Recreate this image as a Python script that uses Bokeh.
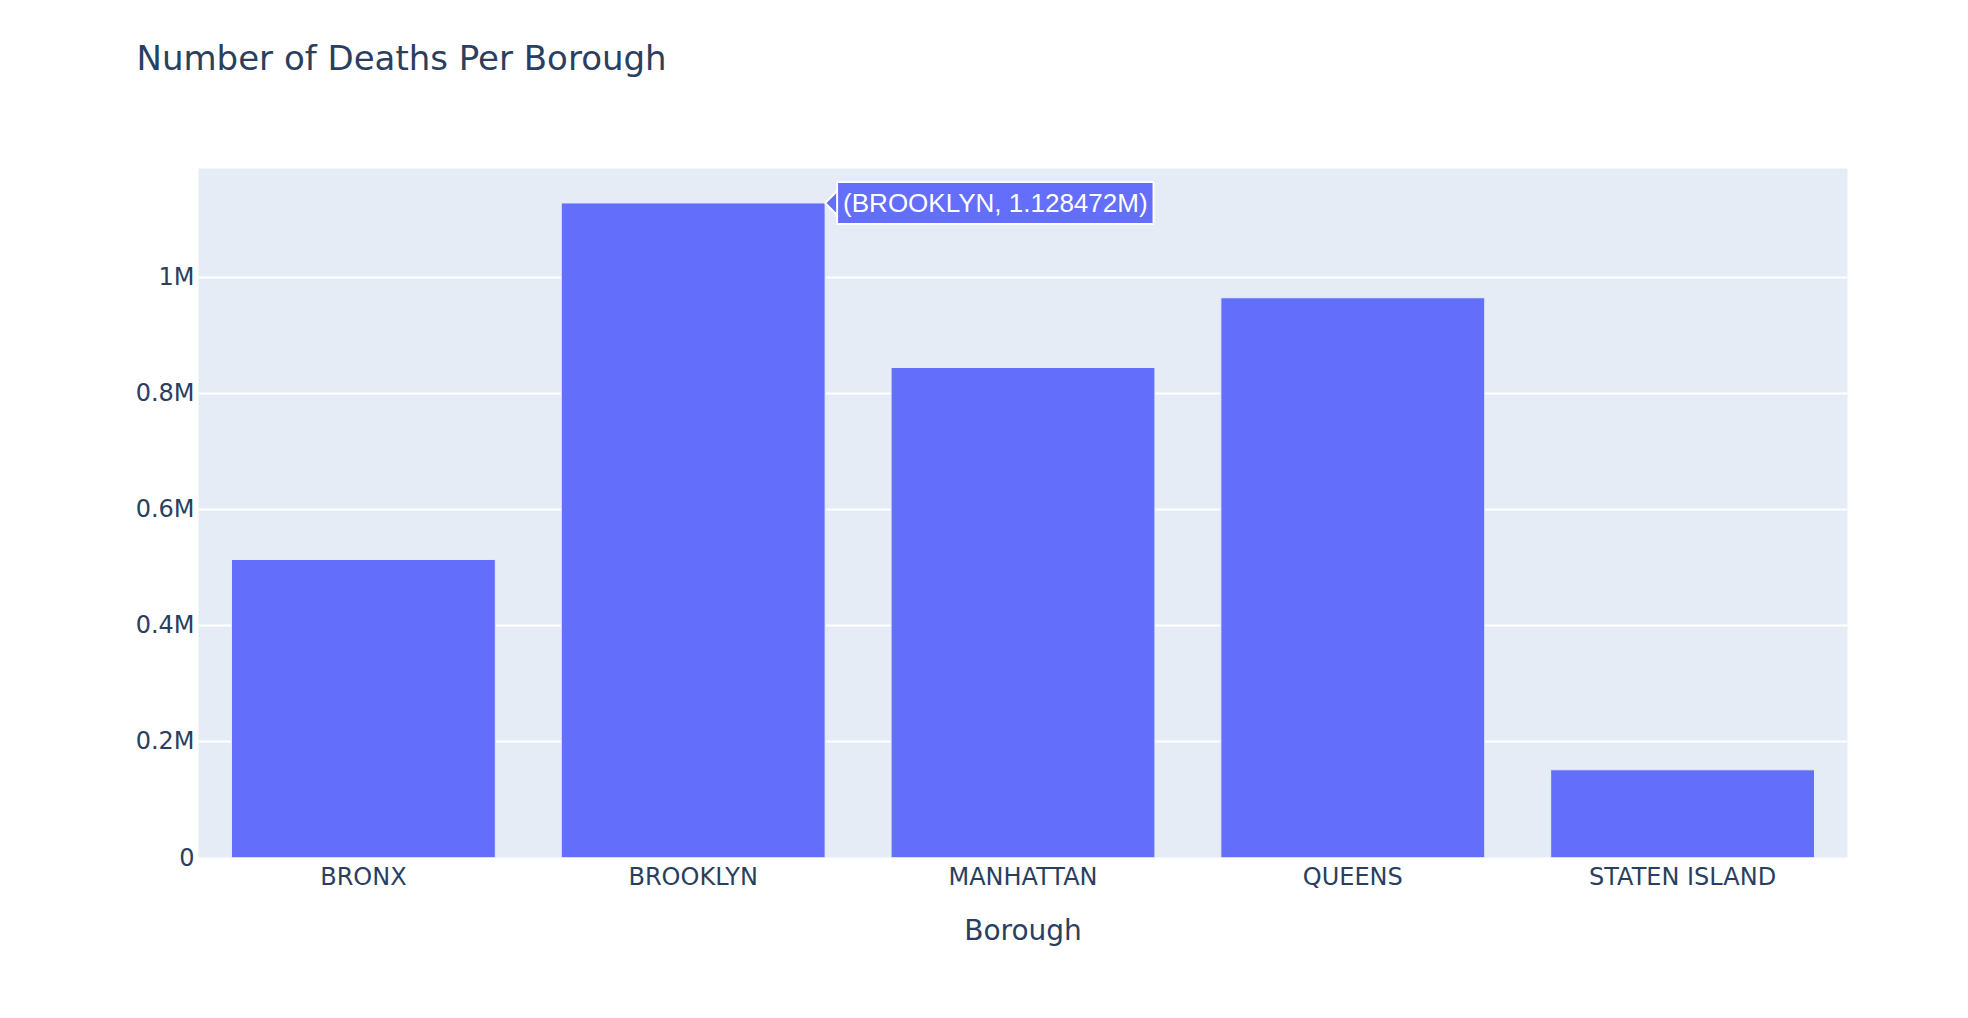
import math
from bokeh.plotting import figure
from bokeh.models import FactorRange, Range1d, FixedTicker, ColumnDataSource, Title
from bokeh.transform import dodge
from bokeh.core.properties import value
from bokeh.embed import file_html
from bokeh.resources import INLINE

# ---- data ----
boroughs = ["BRONX", "BROOKLYN", "MANHATTAN", "QUEENS", "STATEN ISLAND"]
deaths = [513800, 1128472, 844800, 965000, 151200]
y_ticks = [0, 200000, 400000, 600000, 800000, 1000000]
y_tick_labels = ["0", "0.2M", "0.4M", "0.6M", "0.8M", "1M"]
title_text = "Number of Deaths Per Borough"
x_title = "Borough"
hover_borough = ["BROOKLYN"]
hover_value = [1128472]
hover_text = ["(BROOKLYN, 1.128472M)"]

FONT = "DejaVu Sans"
TXT = "#2a3f5f"
BAR = "#636EFA"
BG = "#E5ECF6"

p = figure(
    width=1952, height=1000,
    x_range=FactorRange(*boroughs),
    y_range=Range1d(0, 1187865),
    output_backend="svg", toolbar_location=None, tools="",
    min_border_left=198, min_border_right=105,
    min_border_top=168, min_border_bottom=143,
)

p.background_fill_color = BG
p.border_fill_color = "white"
p.outline_line_color = None

# title
p.title.text = title_text
p.title.text_font = FONT
p.title.text_font_size = "34px"
p.title.text_font_style = "normal"
p.title.text_color = TXT
p.title.align = "left"
p.title.offset = -62
p.title.standoff = 10

# empty spacer between the title and the plot area
p.add_layout(Title(text=" ", text_font_size="2px", standoff=82), "above")

# axes
for ax in (p.xaxis[0], p.yaxis[0]):
    ax.axis_line_color = None
    ax.major_tick_line_color = None
    ax.minor_tick_line_color = None
    ax.major_tick_out = 0
    ax.major_tick_in = 0
    ax.minor_tick_out = 0
    ax.minor_tick_in = 0
    ax.major_label_text_font = FONT
    ax.major_label_text_font_size = "24px"
    ax.major_label_text_color = TXT

p.xaxis.axis_label = x_title
p.xaxis.axis_label_text_font = FONT
p.xaxis.axis_label_text_font_size = "28px"
p.xaxis.axis_label_text_font_style = "normal"
p.xaxis.axis_label_text_color = TXT
p.xaxis.major_label_standoff = 5
p.xaxis.axis_label_standoff = 20

p.yaxis.ticker = FixedTicker(ticks=y_ticks)
p.yaxis.major_label_overrides = dict(zip(y_ticks, y_tick_labels))
p.yaxis.major_label_standoff = 4

p.xgrid.grid_line_color = None
p.ygrid.grid_line_color = "white"
p.ygrid.grid_line_width = 2

src = ColumnDataSource(dict(borough=boroughs, deaths=deaths))
p.vbar(x="borough", top="deaths", width=0.8, source=src,
       fill_color=BAR, line_color=BG, line_width=1)

# hover label (static)
hsrc = ColumnDataSource(dict(borough=hover_borough, v=hover_value, label=hover_text))
p.scatter(x=dodge("borough", 0.4 + 12 / 330, range=p.x_range), y="v", source=hsrc,
          marker="square", size=17, angle=math.pi / 4,
          fill_color=BAR, line_color="white", line_width=2)
p.text(x=dodge("borough", 0.4, range=p.x_range), y="v", text="label", source=hsrc,
       x_offset=12, text_font=value("Liberation Sans"), text_font_size="26px",
       text_color="white", text_align="left", text_baseline="middle",
       background_fill_color=BAR, border_line_color="white", border_line_width=2,
       padding=6)

open("out.html", "w").write(file_html(p, INLINE))
